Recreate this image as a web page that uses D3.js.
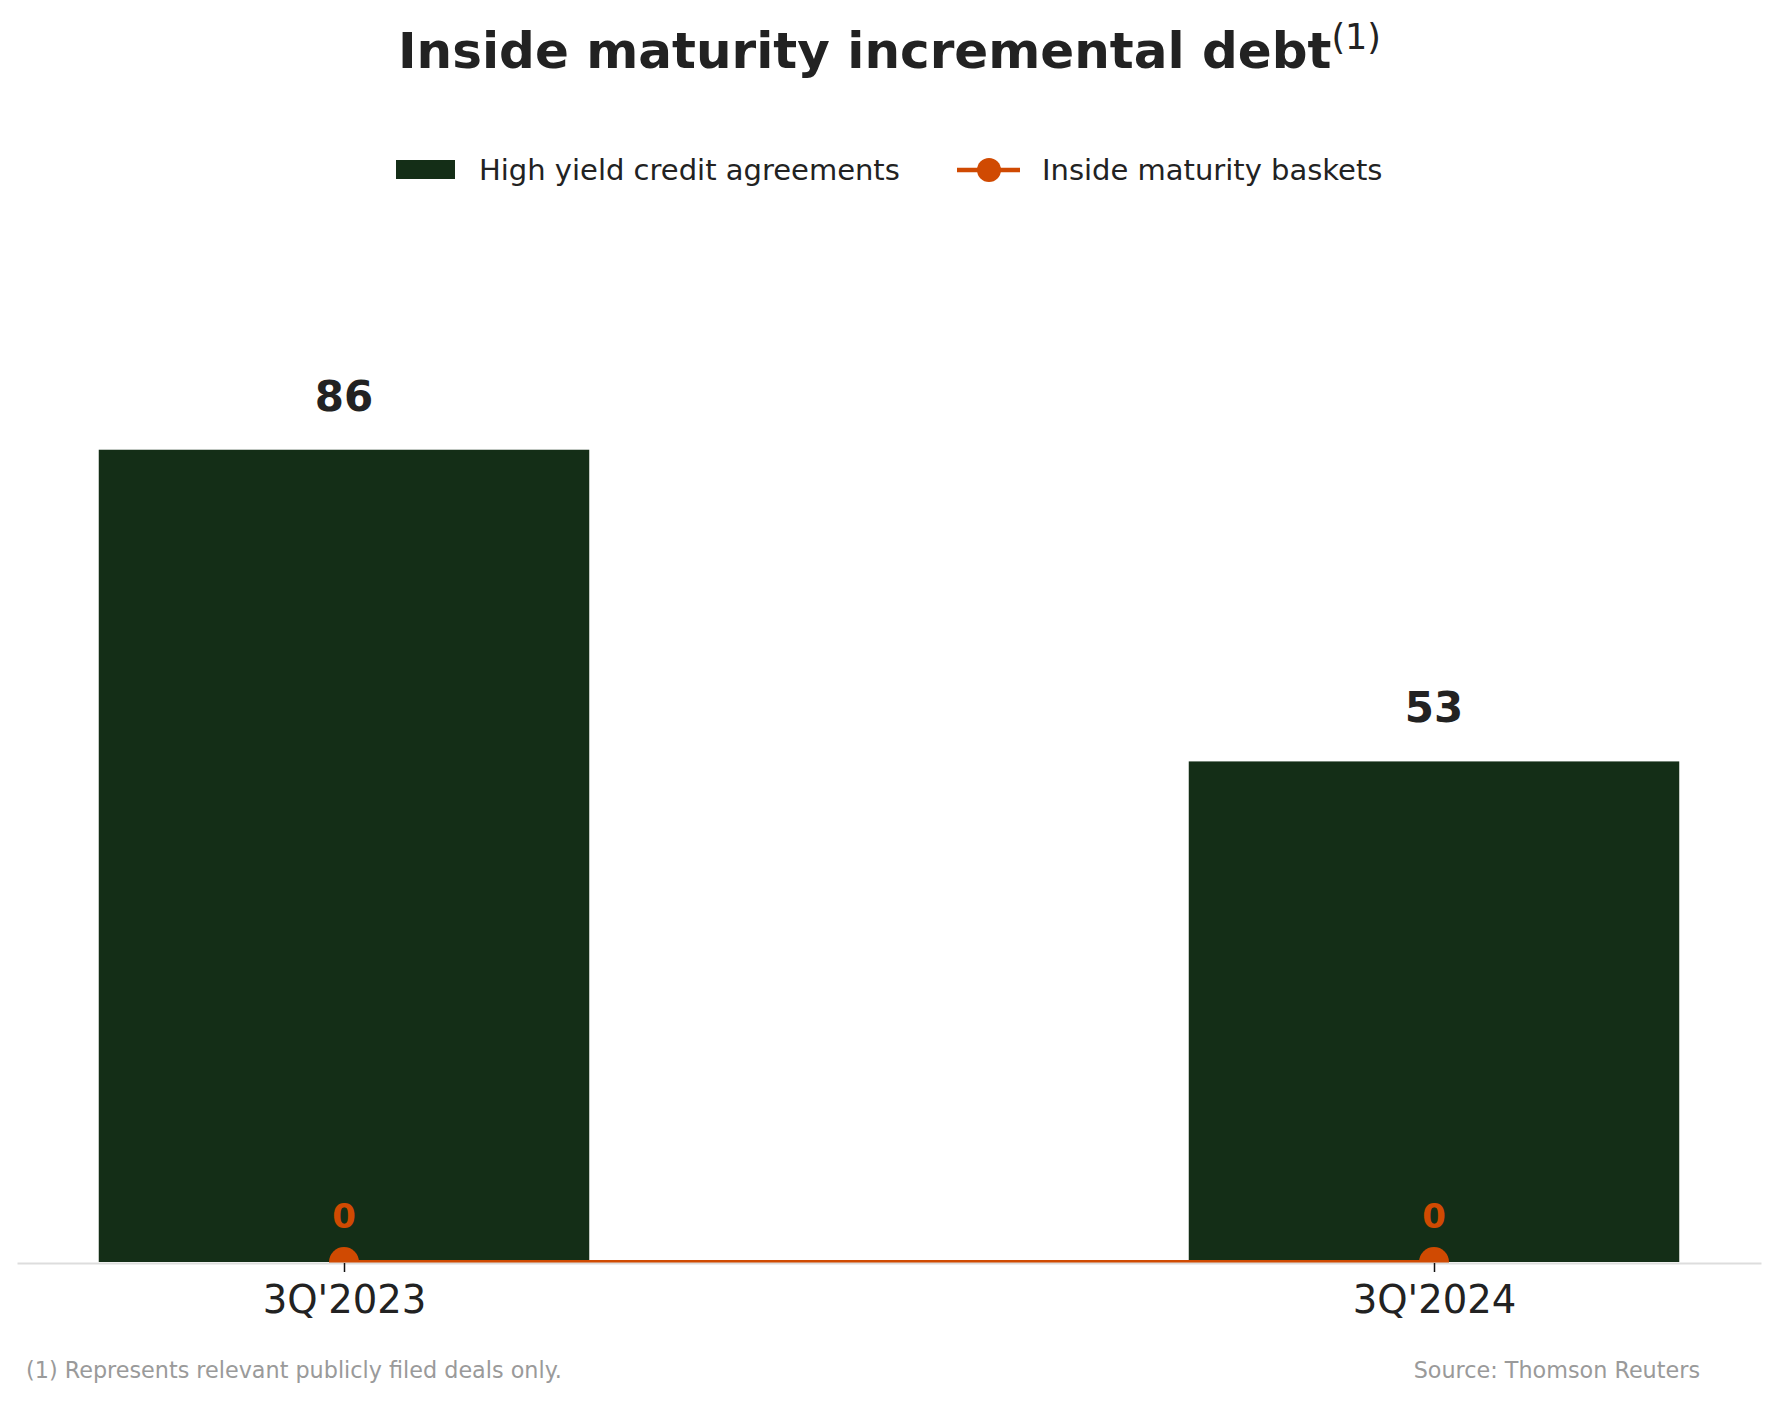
<!DOCTYPE html>
<html>
<head>
<meta charset="utf-8">
<script src="https://cdn.jsdelivr.net/npm/d3@7"></script>
<style>
  body { margin: 0; background: #fff; }
  svg { display: block; font-family: "DejaVu Sans", sans-serif; }
</style>
</head>
<body>
<svg id="chart"></svg>
<script>
// chart values
const categories = ["3Q'2023", "3Q'2024"];
const creditAgreements = [86, 53];
const insideMaturity = [0, 0];
const seriesNames = ["High yield credit agreements", "Inside maturity baskets"];

document.addEventListener('DOMContentLoaded', function() {
  const W = 1779, H = 1402;
  const green = "#142e17", orange = "#d04a02", ink = "#222222";

  const svg = d3.select("#chart")
      .attr("width", W)
      .attr("height", H);

  // Scales
  const x = d3.scalePoint()
      .domain(categories)
      .range([17, 1761])
      .padding(0.3);
  const step = x.step();
  const barW = step * 0.45;

  const y = d3.scaleLinear()
      .domain([0, 100])
      .range([1262, 317.5]);

  // Title with superscript
  const title = svg.append("text")
      .attr("x", W / 2)
      .attr("y", 68)
      .attr("text-anchor", "middle")
      .attr("fill", ink);
  title.append("tspan")
      .attr("font-size", 50)
      .attr("font-weight", "bold")
      .text("Inside maturity incremental debt");
  title.append("tspan")
      .attr("font-size", 35)
      .attr("dy", -19)
      .text("(1)");

  // Legend
  const legend = svg.append("g");
  legend.append("rect")
      .attr("x", 396).attr("y", 160)
      .attr("width", 59).attr("height", 19)
      .attr("fill", green);
  legend.append("text")
      .attr("x", 479).attr("y", 180)
      .attr("font-size", 29)
      .attr("fill", ink)
      .text(seriesNames[0]);
  legend.append("line")
      .attr("x1", 957).attr("x2", 1020)
      .attr("y1", 170).attr("y2", 170)
      .attr("stroke", orange)
      .attr("stroke-width", 4.5);
  legend.append("circle")
      .attr("cx", 989).attr("cy", 170).attr("r", 12)
      .attr("fill", orange);
  legend.append("text")
      .attr("x", 1042).attr("y", 180)
      .attr("font-size", 29)
      .attr("fill", ink)
      .text(seriesNames[1]);

  // clip to the plot area
  svg.append("defs").append("clipPath")
      .attr("id", "plotClip")
      .append("rect")
      .attr("x", 17).attr("y", 0)
      .attr("width", 1744).attr("height", y(0) + 1);

  const plot = svg.append("g").attr("clip-path", "url(#plotClip)");

  // Bars
  plot.selectAll(".bar")
      .data(creditAgreements)
      .enter().append("rect")
      .attr("class", "bar")
      .attr("x", (d, i) => x(categories[i]) - barW / 2)
      .attr("width", barW)
      .attr("y", d => y(d))
      .attr("height", d => y(0) - y(d))
      .attr("fill", green);

  // Axis
  const axis = svg.append("g")
      .attr("transform", "translate(0," + (y(0) + 1) + ")")
      .call(d3.axisBottom(x).tickSize(9).tickSizeOuter(0));
  axis.select(".domain")
      .attr("stroke", "#dddddd")
      .attr("stroke-width", 2);
  axis.selectAll(".tick line")
      .attr("stroke", "#111")
      .attr("stroke-width", 1.5);
  axis.selectAll(".tick text")
      .attr("font-size", 38.6)
      .attr("font-family", "DejaVu Sans, sans-serif")
      .attr("fill", ink)
      .attr("dy", null)
      .attr("y", 50);

  // Line series
  const line = d3.line()
      .x((d, i) => x(categories[i]))
      .y(d => y(d));
  plot.append("path")
      .datum(insideMaturity)
      .attr("d", line)
      .attr("fill", "none")
      .attr("stroke", orange)
      .attr("stroke-width", 4);
  plot.selectAll(".dot")
      .data(insideMaturity)
      .enter().append("circle")
      .attr("class", "dot")
      .attr("cx", (d, i) => x(categories[i]))
      .attr("cy", d => y(d))
      .attr("r", 15)
      .attr("fill", orange);

  // Value labels
  svg.selectAll(".barLabel")
      .data(creditAgreements)
      .enter().append("text")
      .attr("class", "barLabel")
      .attr("x", (d, i) => x(categories[i]))
      .attr("y", d => y(d) - 39)
      .attr("text-anchor", "middle")
      .attr("font-size", 42)
      .attr("font-weight", "bold")
      .attr("fill", ink)
      .text(d => d);
  svg.selectAll(".lineLabel")
      .data(insideMaturity)
      .enter().append("text")
      .attr("class", "lineLabel")
      .attr("x", (d, i) => x(categories[i]))
      .attr("y", d => y(d) - 34)
      .attr("text-anchor", "middle")
      .attr("font-size", 34)
      .attr("font-weight", "bold")
      .attr("fill", orange)
      .text(d => d);

  // Footer notes
  svg.append("text")
      .attr("x", 26).attr("y", 1378)
      .attr("font-size", 22.3)
      .attr("fill", "#9a9a9a")
      .text("(1) Represents relevant publicly filed deals only.");
  svg.append("text")
      .attr("x", 1700).attr("y", 1378)
      .attr("text-anchor", "end")
      .attr("font-size", 22.3)
      .attr("fill", "#9a9a9a")
      .text("Source: Thomson Reuters");
});
</script>
</body>
</html>
